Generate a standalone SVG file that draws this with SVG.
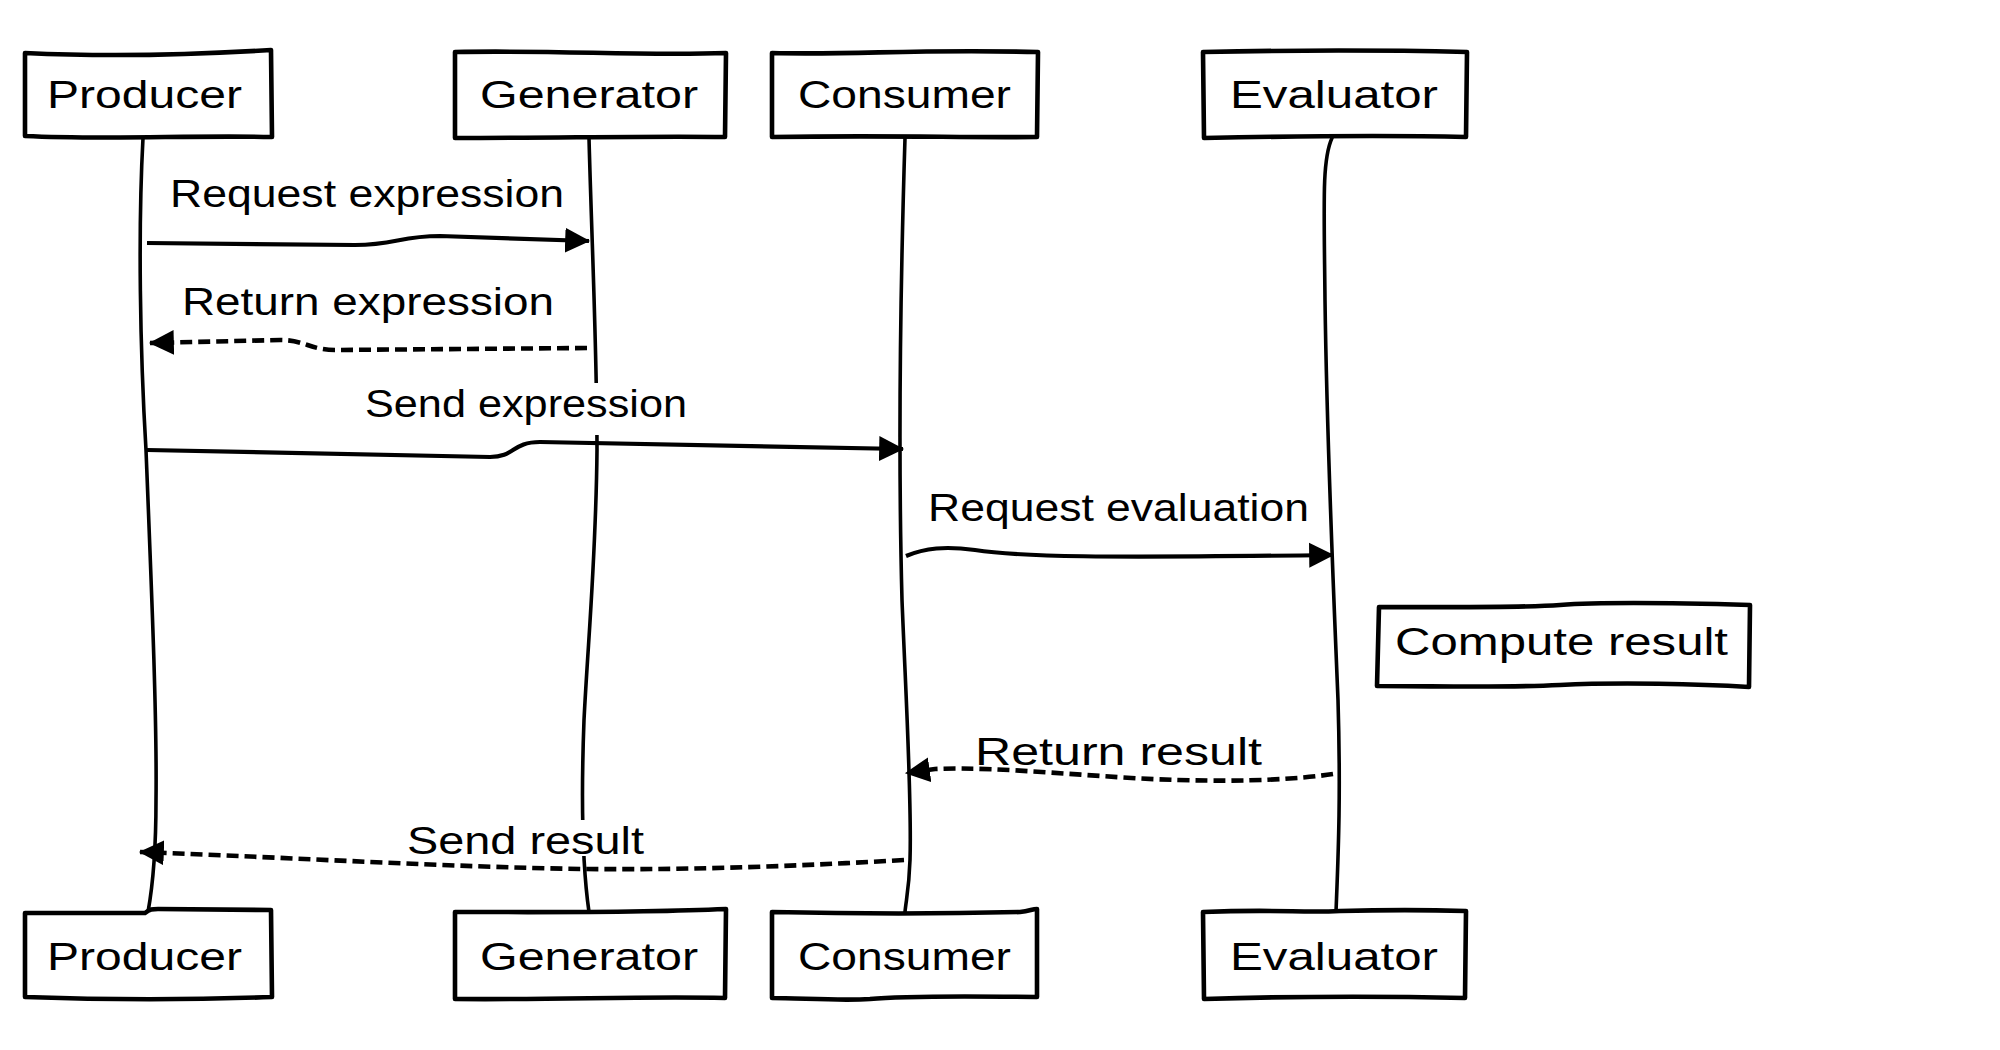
<svg xmlns="http://www.w3.org/2000/svg" width="2000" height="1050" viewBox="0 0 2000 1050">
<defs>
<style>
.box{fill:#fff;stroke:#000;stroke-width:4.6;stroke-linejoin:round;stroke-linecap:round}
.life{fill:none;stroke:#000;stroke-width:3.6;stroke-linecap:round}
.msg{fill:none;stroke:#000;stroke-width:4.2;stroke-linecap:butt}
.dash{stroke-width:4.6;stroke-dasharray:12 6}
.bg{fill:#fff;stroke:none}
text{font-family:"Liberation Sans","DejaVu Sans",sans-serif;font-size:38px;fill:#000}
</style>
<marker id="ah" markerUnits="userSpaceOnUse" markerWidth="26" markerHeight="26" viewBox="0 0 24 24" refX="22" refY="12" orient="auto">
<path d="M0,0.5 L23,12 L0,23.5 Z" fill="#000"/>
</marker>
</defs>
<rect width="2000" height="1050" fill="#fff"/>

<g id="lifelines">
<path class="life" d="M143,138 C138,230 140,350 146,450 C152,600 157,720 156,800 C156,860 152,890 148,912"/>
<path class="life" d="M589,138 C592,250 597,350 597,450 C596,560 588,640 584,720 C581,800 583,870 589,912"/>
<path class="life" d="M905,138 C900,300 898,450 902,600 C906,700 912,800 910,860 C909,890 906,900 905,912"/>
<path class="life" d="M1332,138 C1322,160 1324,200 1325,300 C1327,450 1334,600 1338,700 C1341,800 1338,860 1336,912"/>
</g>

<g id="producer">
<path class="box" d="M25,53 C110,57 190,55 271,50 L272,137 C190,135 110,140 25,136 Z"/>
<text x="47" y="108" textLength="195" lengthAdjust="spacingAndGlyphs">Producer</text>
<path class="box" d="M25,913 L145,913 C150,909 152,909 158,909 L271,910 L272,997 C190,1000 110,1000 25,997 Z"/>
<text x="47" y="970" textLength="195" lengthAdjust="spacingAndGlyphs">Producer</text>
</g>

<g id="generator">
<path class="box" d="M455,52 C560,50 640,56 726,53 L725,137 C640,136 560,138 455,138 Z"/>
<text x="480" y="108" textLength="218" lengthAdjust="spacingAndGlyphs">Generator</text>
<path class="box" d="M455,912 C560,912 640,913 726,909 L725,998 C640,996 560,1000 455,999 Z"/>
<text x="480" y="970" textLength="218" lengthAdjust="spacingAndGlyphs">Generator</text>
</g>

<g id="consumer">
<path class="box" d="M772,53 C860,55 910,49 1038,52 L1037,137 C960,138 900,135 772,137 Z"/>
<text x="798" y="108" textLength="213" lengthAdjust="spacingAndGlyphs">Consumer</text>
<path class="box" d="M772,912 C860,914 940,914 1020,912 C1030,911 1032,909 1037,909 L1037,997 C960,996 900,996 870,999 C840,1001 800,998 772,998 Z"/>
<text x="798" y="970" textLength="213" lengthAdjust="spacingAndGlyphs">Consumer</text>
</g>

<g id="evaluator">
<path class="box" d="M1203,52 C1300,50 1380,50 1467,52 L1466,137 C1380,135 1300,136 1204,138 Z"/>
<text x="1230" y="108" textLength="208" lengthAdjust="spacingAndGlyphs">Evaluator</text>
<path class="box" d="M1203,912 C1280,909 1300,913 1340,911 C1380,910 1430,910 1466,911 L1465,998 C1380,996 1300,996 1204,999 Z"/>
<text x="1230" y="970" textLength="208" lengthAdjust="spacingAndGlyphs">Evaluator</text>
</g>

<g id="compute-result">
<path class="box" d="M1379,607 C1450,607 1520,608 1560,605 C1600,602 1680,603 1750,605 L1749,687 C1700,684 1620,682 1560,685 C1500,688 1440,686 1377,686 Z"/>
<text x="1395" y="655" textLength="333" lengthAdjust="spacingAndGlyphs">Compute result</text>
</g>

<g id="connectors">
<g id="msg-request-expression">
<rect class="bg" x="163" y="174" width="409" height="46"/>
<path class="msg" marker-end="url(#ah)" d="M147,243 L355,245 C395,245 400,236 440,236 L589,241"/>
<text x="170" y="207" textLength="394" lengthAdjust="spacingAndGlyphs">Request expression</text>
</g>
<g id="msg-return-expression">
<rect class="bg" x="175" y="280" width="386" height="46"/>
<path class="msg dash" marker-end="url(#ah)" d="M587,348 L335,350 C310,350 305,340 280,340 L150,343"/>
<text x="182" y="315" textLength="372" lengthAdjust="spacingAndGlyphs">Return expression</text>
</g>
<g id="msg-send-expression">
<rect class="bg" x="358" y="383" width="337" height="52"/>
<path class="msg" marker-end="url(#ah)" d="M147,450 L490,457 C515,457 512,442 540,442 L903,449"/>
<text x="365" y="417" textLength="322" lengthAdjust="spacingAndGlyphs">Send expression</text>
</g>
<g id="msg-request-evaluation">
<rect class="bg" x="922" y="484" width="394" height="48"/>
<path class="msg" marker-end="url(#ah)" d="M906,556 C925,548 945,546 975,550 C1020,557 1100,558 1333,555"/>
<text x="928" y="521" textLength="381" lengthAdjust="spacingAndGlyphs">Request evaluation</text>
</g>
<g id="msg-return-result">
<rect class="bg" x="969" y="730" width="300" height="40"/>
<path class="msg dash" marker-end="url(#ah)" d="M1333,774 C1300,779 1250,782 1178,780 C1100,778 1000,766 935,769 L906,773"/>
<text x="975" y="765" textLength="287" lengthAdjust="spacingAndGlyphs">Return result</text>
</g>
<g id="msg-send-result">
<rect class="bg" x="400" y="820" width="251" height="36"/>
<path class="msg dash" marker-end="url(#ah)" d="M904,860 C800,866 700,870 582,869 C450,867 300,858 140,852"/>
<text x="407" y="854" textLength="237" lengthAdjust="spacingAndGlyphs">Send result</text>
</g>
</g>
</svg>
